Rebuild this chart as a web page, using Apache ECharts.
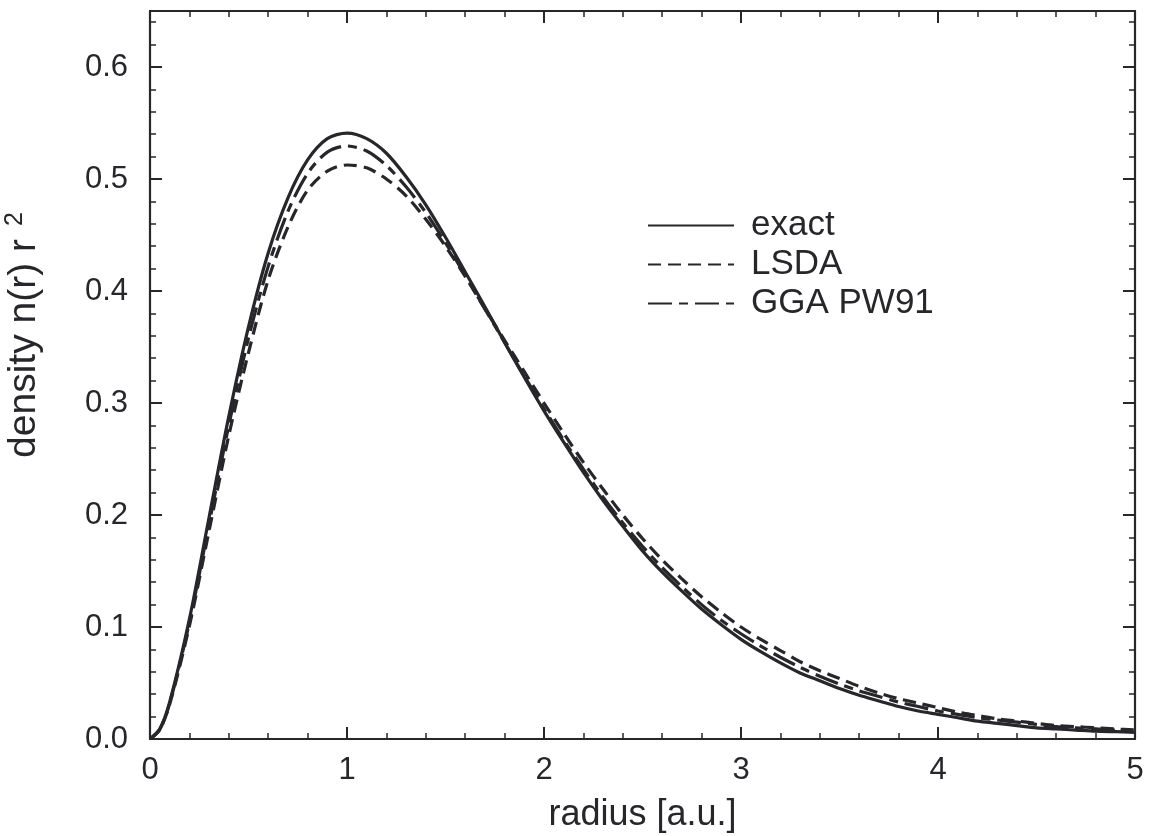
<!DOCTYPE html>
<html>
<head>
<meta charset="utf-8">
<script src="https://cdn.jsdelivr.net/npm/echarts@6/dist/echarts.min.js"></script>
<style>
html,body{margin:0;padding:0;background:#fff;}
#chart{width:1154px;height:836px;}
</style>
</head>
<body>
<div id="chart"></div>
<script>
// radius values [a.u.]
const radius = [0,0.05,0.1,0.2,0.3,0.4,0.5,0.6,0.7,0.8,0.9,1.0,1.1,1.2,1.3,1.4,1.5,1.6,1.7,1.8,1.9,2.0,
  2.1,2.2,2.3,2.4,2.5,2.6,2.7,2.8,2.9,3.0,3.1,3.2,3.3,3.4,3.5,3.6,3.7,3.8,3.9,4.0,
  4.1,4.2,4.3,4.4,4.5,4.6,4.7,4.8,4.9,5.0];
// density n(r) r^2
const exact = [0,0.009,0.033,0.107,0.198,0.288,0.368,0.434,0.483,0.517,0.536,0.541,0.536,0.523,0.502,0.477,0.448,0.417,0.386,0.354,0.323,0.293,
  0.265,0.238,0.213,0.190,0.168,0.149,0.132,0.116,0.102,0.089,0.078,0.068,0.059,0.052,0.045,0.039,0.034,0.029,0.025,0.022,
  0.019,0.016,0.014,0.012,0.010,0.0090,0.0080,0.0070,0.0065,0.0060];
const lsda = [0,0.0085,0.031,0.101,0.186,0.271,0.345,0.410,0.457,0.490,0.507,0.5125,0.510,0.500,0.485,0.464,0.440,0.413,0.384,0.356,0.328,0.300,
  0.273,0.247,0.223,0.200,0.179,0.160,0.143,0.127,0.113,0.100,0.089,0.079,0.069,0.061,0.054,0.047,0.041,0.036,0.032,0.028,
  0.024,0.021,0.018,0.016,0.014,0.012,0.011,0.010,0.009,0.008];
const gga = [0,0.0088,0.032,0.104,0.192,0.280,0.358,0.422,0.471,0.505,0.524,0.5295,0.525,0.512,0.493,0.470,0.443,0.414,0.384,0.354,0.324,0.295,
  0.267,0.241,0.216,0.193,0.172,0.153,0.136,0.120,0.106,0.094,0.083,0.073,0.064,0.056,0.049,0.043,0.038,0.033,0.029,0.025,
  0.022,0.019,0.017,0.015,0.013,0.011,0.010,0.009,0.008,0.007];
const seriesNames = ['exact','LSDA','GGA PW91'];

const ink = '#26262b';
const font = '"Liberation Sans", Arial, Helvetica, sans-serif';
const pairs = ys => radius.map((x,i)=>[x, ys[i]]);

const axisCommon = {
  axisLine:{show:true, onZero:false, lineStyle:{color:ink, width:2.2}},
  axisTick:{show:true, inside:true, length:12, lineStyle:{color:ink, width:2}},
  minorTick:{show:true, splitNumber:5, length:6, lineStyle:{color:ink, width:1.5}},
  splitLine:{show:false},
  minorSplitLine:{show:false}
};

const chart = echarts.init(document.getElementById('chart'), null, {renderer:'canvas'});
chart.setOption({
  backgroundColor:'#ffffff',
  animation:false,
  grid:{left:150, right:19, top:11, bottom:97, containLabel:false, outerBoundsMode:'none'},
  legend:{
    orient:'vertical', left:642, top:203,
    itemWidth:86, itemHeight:14, itemGap:4,
    itemStyle:{opacity:0},
    textStyle:{fontFamily:font, fontSize:35, color:ink, padding:[0,0,0,12]},
    data:seriesNames
  },
  xAxis:[
    Object.assign({}, axisCommon, {
      type:'value', min:0, max:5, interval:1, position:'bottom',
      name:'radius [a.u.]', nameLocation:'middle', nameGap:58,
      nameTextStyle:{fontFamily:font, fontSize:36, color:ink},
      axisLabel:{fontFamily:font, fontSize:31, color:ink, margin:16}
    }),
    Object.assign({}, axisCommon, {
      type:'value', min:0, max:5, interval:1, position:'top',
      axisLabel:{show:false}
    })
  ],
  yAxis:[
    Object.assign({}, axisCommon, {
      type:'value', min:0, max:0.65, interval:0.1, position:'left',
      name:'density n(r) r{sup|2}', nameLocation:'middle', nameGap:104,
      nameTextStyle:{fontFamily:font, fontSize:39, color:ink, padding:[0,0,0,80],
        rich:{sup:{fontFamily:font, fontSize:25, color:ink, verticalAlign:'top', padding:[0,0,18,13]}}},
      axisLabel:{fontFamily:font, fontSize:31, color:ink, margin:22,
        formatter: v => v > 0.6001 ? '' : v.toFixed(1)}
    }),
    Object.assign({}, axisCommon, {
      type:'value', min:0, max:0.65, interval:0.1, position:'right',
      axisLabel:{show:false}
    })
  ],
  series:[
    {name:seriesNames[0], type:'line', data:pairs(exact), smooth:0.3, symbol:'none', showSymbol:false,
      lineStyle:{color:ink, width:3.2, type:'solid'}, itemStyle:{color:ink}},
    {name:seriesNames[1], type:'line', data:pairs(lsda), smooth:0.3, symbol:'none', showSymbol:false,
      lineStyle:{color:ink, width:3.2, type:[13,7]}, itemStyle:{color:ink}},
    {name:seriesNames[2], type:'line', data:pairs(gga), smooth:0.3, symbol:'none', showSymbol:false,
      lineStyle:{color:ink, width:3.2, type:[24,7,9,7]}, itemStyle:{color:ink}}
  ]
});
</script>
</body>
</html>
